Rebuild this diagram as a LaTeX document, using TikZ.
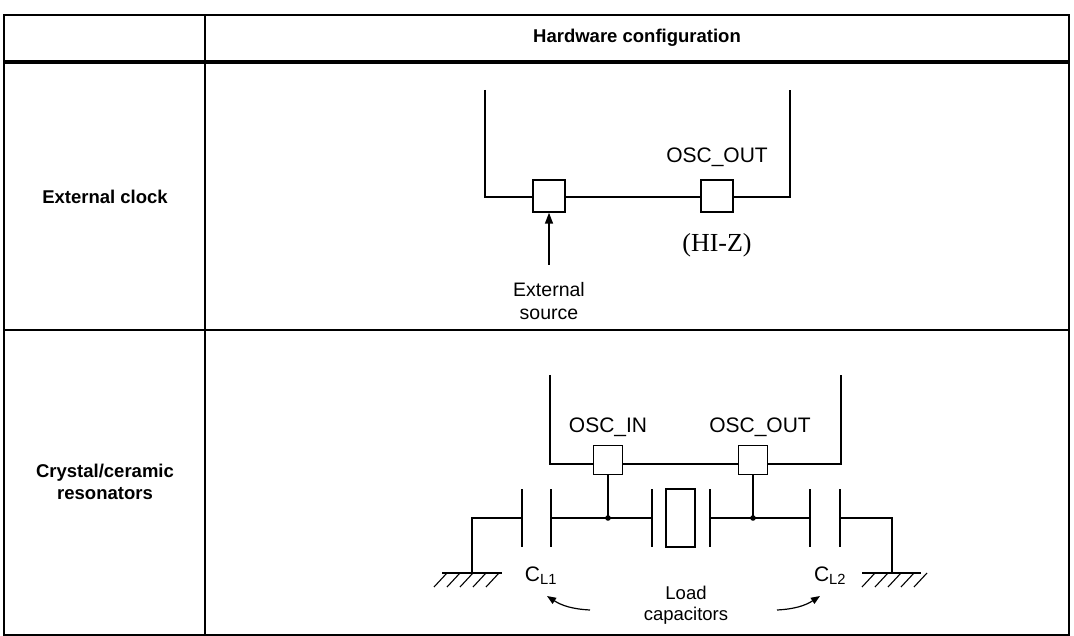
\documentclass[tikz,border=0pt]{standalone}
\usepackage{fontspec}
\setmainfont{Liberation Sans}
\newfontfamily\serifx{Liberation Serif}
\usetikzlibrary{arrows.meta}
\begin{document}
\begin{tikzpicture}[x=1pt,y=-1pt,
  grid/.style={line width=1.2pt},
  wire/.style={line width=1.8pt},
  pin/.style={draw,line width=1.4pt,minimum size=32pt,inner sep=0pt},
  lbl/.style={font=\fontsize{21}{24}\selectfont},
  head/.style={font=\bfseries\fontsize{18.5}{22}\selectfont,align=center}]
\useasboundingbox (0,0) rectangle (1074,636);
% table
\draw[grid] (4,15) rectangle (1069,635);
\draw[line width=4pt] (4,62) -- (1069,62);
\draw[grid] (4,330) -- (1069,330);
\draw[grid] (205,15) -- (205,635);
\node[head] (h) at (637,38) {Hardware configuration};
\node[head] (r1) at (105,197) {External clock};
\node[head] (r2) at (105,482) {Crystal/ceramic\\resonators};
% external clock
\draw[wire] (485,90) -- (485,197) -- (790,197) -- (790,90);
\node[pin,fill=white] (p1) at (549,196) {};
\node[pin,fill=white] (p2) at (717,196) {};
\node[lbl] (oo) at (717,157) {OSC\_OUT};
\node[font=\serifx\fontsize{26}{30}\selectfont] (hz) at (717,245) {(HI-Z)};
\node[lbl,align=center,font=\fontsize{19.5}{23}\selectfont] (es) at (549,301) {External\\source};
\coordinate (a0) at (549,265);
\draw[line width=1.5pt,-{Triangle[length=11pt,width=8pt]}] (a0) -- (p1.south);
% crystal
\draw[wire] (550,375) -- (550,464) -- (841,464) -- (841,375);
\node[pin,minimum size=29pt,fill=white] (q1) at (608,460) {};
\node[pin,minimum size=29pt,fill=white] (q2) at (753,460) {};
\node[lbl] (oi) at (608,427) {OSC\_IN};
\node[lbl] (oo2) at (760,427) {OSC\_OUT};
\coordinate (j1) at (608,518); \coordinate (j2) at (753,518);
\draw[wire] (q1.south) -- (j1); \draw[wire] (q2.south) -- (j2);
\fill (j1) circle (2.8pt); \fill (j2) circle (2.8pt);
\draw[wire] (472,573) -- (472,518) -- (522,518);
\draw[wire] (522,489) -- (522,547); \draw[wire] (551,489) -- (551,547);
\draw[wire] (551,518) -- (652,518);
\draw[wire] (652,489) -- (652,547); \draw[wire] (710,489) -- (710,547);
\draw[wire] (666,489) rectangle (695,547);
\draw[wire] (710,518) -- (810,518);
\draw[wire] (810,489) -- (810,547); \draw[wire] (840,489) -- (840,547);
\draw[wire] (840,518) -- (892,518) -- (892,573);
\draw[line width=1.4pt] (442,573) -- (502,573);
\foreach \x in {447,460,473,486,499} \draw[line width=1.1pt] (\x,573) -- (\x-13,587);
\draw[line width=1.4pt] (862,573) -- (921,573);
\foreach \x in {875,888,901,914,927} \draw[line width=1.1pt] (\x,573) -- (\x-13,587);
\node[lbl] (c1) at (541,576) {C\textsubscript{L1}};
\node[lbl] (c2) at (830,576) {C\textsubscript{L2}};
\node[align=center,font=\fontsize{18.5}{21}\selectfont] (lc) at (686,605) {Load\\capacitors};
\coordinate (l1) at (590,610); \coordinate (l2) at (547,596);
\coordinate (r1a) at (777,610); \coordinate (r2a) at (820,596);
\draw[line width=1.2pt,-{Triangle[length=9pt,width=7pt]}] (l1) to[bend left=15] (l2);
\draw[line width=1.2pt,-{Triangle[length=9pt,width=7pt]}] (r1a) to[bend right=15] (r2a);
\end{tikzpicture}
\end{document}
